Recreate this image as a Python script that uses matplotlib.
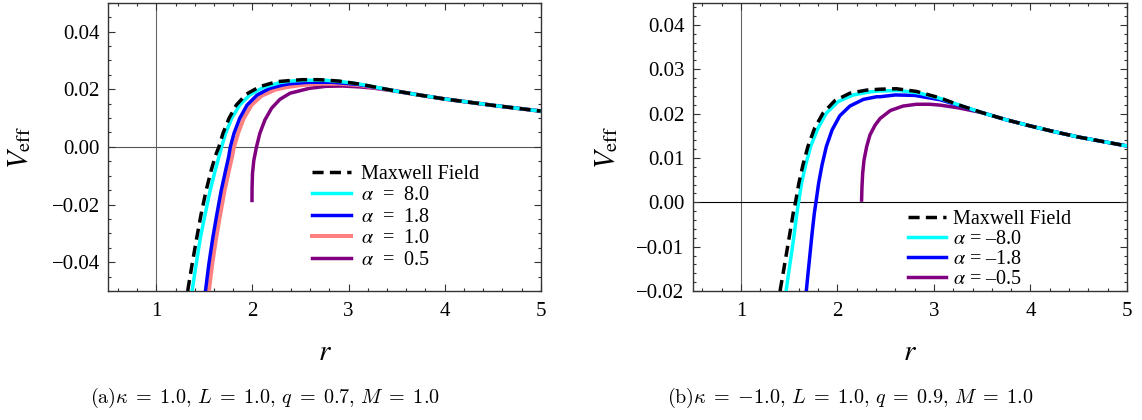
import matplotlib
matplotlib.use("Agg")
import matplotlib.pyplot as plt
from matplotlib.ticker import MultipleLocator, FixedLocator, FixedFormatter

plt.rcParams["font.family"] = ["Liberation Serif", "DejaVu Serif"]
plt.rcParams["mathtext.fontset"] = "stix"

# ---- panel (a): kappa = 1.0, q = 0.7 ----
r_max_a = [1.326, 1.372, 1.421, 1.466, 1.518, 1.571, 1.616, 1.651, 1.693, 1.756, 1.832,
           1.937, 2.077, 2.251, 2.391, 2.522, 2.696, 2.903, 3.111, 3.25]
v_max_a = [-0.0500, -0.0407, -0.0314, -0.0233, -0.0151, -0.0081, -0.0029, 0.0, 0.0047, 0.0099,
           0.0145, 0.0183, 0.0209, 0.0226, 0.0230, 0.0233, 0.0233, 0.0228, 0.0218, 0.0209]
r_a80 = [1.372, 1.414, 1.459, 1.508, 1.560, 1.613, 1.651, 1.679, 1.721, 1.784, 1.867,
         1.972, 2.112, 2.286, 2.391, 2.55, 2.75, 2.903, 3.111, 3.25]
v_a80 = [-0.0500, -0.0407, -0.0314, -0.0233, -0.0151, -0.0081, -0.0035, 0.0, 0.0047, 0.0099,
         0.0145, 0.0180, 0.0206, 0.0223, 0.0228, 0.0231, 0.0231, 0.0227, 0.0218, 0.0209]
r_a18 = [1.511, 1.546, 1.588, 1.630, 1.675, 1.721, 1.752, 1.770, 1.808, 1.867, 1.944,
         2.049, 2.181, 2.321, 2.391, 2.592, 2.834, 3.111, 3.25]
v_a18 = [-0.0500, -0.0407, -0.0314, -0.0233, -0.0151, -0.0081, -0.0035, 0.0, 0.0047, 0.0099,
         0.0145, 0.0180, 0.0203, 0.0215, 0.0219, 0.0224, 0.0224, 0.0216, 0.0208]
r_a10 = [1.546, 1.581, 1.623, 1.665, 1.710, 1.756, 1.787, 1.808, 1.850, 1.909, 1.990,
         2.094, 2.234, 2.356, 2.5, 2.7, 2.903, 3.111, 3.25]
v_a10 = [-0.0500, -0.0407, -0.0314, -0.0233, -0.0151, -0.0081, -0.0035, 0.0, 0.0047, 0.0099,
         0.0145, 0.0177, 0.0198, 0.0207, 0.0214, 0.0219, 0.0219, 0.0214, 0.0207]
r_a05 = [1.995, 1.996, 2.0, 2.014, 2.042, 2.077, 2.129, 2.199, 2.286, 2.391, 2.592,
         2.765, 2.938, 3.111, 3.25]
v_a05 = [-0.0186, -0.0140, -0.0093, -0.0047, 0.0, 0.0047, 0.0093, 0.0134, 0.0165, 0.0186,
         0.0203, 0.0210, 0.0211, 0.0208, 0.0204]
r_tail_a = [3.5, 3.75, 4.0, 4.25, 4.5, 4.75, 5.0]
v_tail_a = [0.0193, 0.0179, 0.0166, 0.0155, 0.0144, 0.0134, 0.0124]

# ---- panel (b): kappa = -1.0, q = 0.9 ----
r_max_b = [1.405, 1.440, 1.475, 1.510, 1.544, 1.565, 1.600, 1.642, 1.694, 1.763, 1.850,
           1.972, 2.129, 2.303, 2.442, 2.611, 2.818, 3.067, 3.25]
v_max_b = [-0.0200, -0.0156, -0.0111, -0.0066, -0.0021, 0.0, 0.0043, 0.0084, 0.0126, 0.0167,
           0.0201, 0.0229, 0.0246, 0.0253, 0.0255, 0.0256, 0.0250, 0.0235, 0.0220]
r_b80 = [1.468, 1.496, 1.527, 1.555, 1.579, 1.597, 1.628, 1.670, 1.722, 1.798, 1.885,
         2.007, 2.163, 2.337, 2.442, 2.645, 2.852, 3.067, 3.25]
v_b80 = [-0.0200, -0.0156, -0.0111, -0.0066, -0.0025, 0.0, 0.0043, 0.0084, 0.0126, 0.0167,
         0.0201, 0.0227, 0.0242, 0.0249, 0.0251, 0.0252, 0.0246, 0.0234, 0.0220]
r_b18 = [1.677, 1.697, 1.718, 1.739, 1.760, 1.777, 1.805, 1.840, 1.885, 1.944, 2.024,
         2.129, 2.268, 2.407, 2.442, 2.6, 2.8, 3.067, 3.25]
v_b18 = [-0.0200, -0.0156, -0.0111, -0.0066, -0.0025, 0.0, 0.0043, 0.0084, 0.0126, 0.0163,
         0.0195, 0.0217, 0.0232, 0.0238, 0.0238, 0.0242, 0.0241, 0.0231, 0.0219]
r_b05 = [2.250, 2.254, 2.261, 2.275, 2.303, 2.337, 2.390, 2.442, 2.549, 2.680, 2.818,
         2.957, 3.067, 3.25]
v_b05 = [0.0005, 0.0035, 0.0065, 0.0095, 0.0126, 0.0152, 0.0174, 0.0189, 0.0207, 0.0217,
         0.0221, 0.0221, 0.0219, 0.0213]
r_tail_b = [3.5, 3.75, 4.0, 4.25, 4.5, 4.75, 5.0]
v_tail_b = [0.0202, 0.0186, 0.0172, 0.0159, 0.0147, 0.0137, 0.0127]

labels_a = ["Maxwell Field", "$\\alpha$  =  8.0", "$\\alpha$  =  1.8",
            "$\\alpha$  =  1.0", "$\\alpha$  =  0.5"]
labels_b = ["Maxwell Field", "$\\alpha$ = \u20138.0", "$\\alpha$ = \u20131.8",
            "$\\alpha$ = \u20130.5"]
colors_a = ["black", "#00FFFF", "#0000FF", "#FF8080", "#800080"]
colors_b = ["black", "#00FFFF", "#0000FF", "#800080"]

yticks_a = [-0.04, -0.02, 0.0, 0.02, 0.04]
yticklabels_a = ["\u22120.04", "\u22120.02", "0.00", "0.02", "0.04"]
yticks_b = [-0.02, -0.01, 0.0, 0.01, 0.02, 0.03, 0.04]
yticklabels_b = ["\u22120.02", "\u22120.01", "0.00", "0.01", "0.02", "0.03", "0.04"]
xticks = [1, 2, 3, 4, 5]

caption_a = r"$\mathrm{(a)}\kappa\;=\;1.0,\,L\;=\;1.0,\,q\;=\;0.7,\,M\;=\;1.0$"
caption_b = r"$\mathrm{(b)}\kappa\;=\;{-1.0},\,L\;=\;1.0,\,q\;=\;0.9,\,M\;=\;1.0$"

W, H = 1142, 420
fig = plt.figure(figsize=(W / 100, H / 100), dpi=100)
ax_a = fig.add_axes([108.3 / W, 1 - 291 / H, 432.5 / W, 288.3 / H])
ax_b = fig.add_axes([692.7 / W, 1 - 291 / H, 434.3 / W, 288.3 / H])


def style_axes(ax, ylim, yticks, yticklabels, yminor, zero_color):
    ax.set_xlim(0.5, 5)
    ax.set_ylim(*ylim)
    ax.axvline(1, color="#666666", lw=0.8, zorder=1)
    ax.axhline(0, color=zero_color, lw=0.8, zorder=1)
    ax.xaxis.set_major_locator(FixedLocator(xticks))
    ax.xaxis.set_major_formatter(FixedFormatter([str(t) for t in xticks]))
    ax.xaxis.set_minor_locator(MultipleLocator(0.2))
    ax.yaxis.set_major_locator(FixedLocator(yticks))
    ax.yaxis.set_major_formatter(FixedFormatter(yticklabels))
    ax.yaxis.set_minor_locator(MultipleLocator(yminor))
    ax.tick_params(which="both", direction="in", top=True, right=True,
                   color="#333333", width=0.8)
    ax.tick_params(which="major", length=4.8, labelsize=15)
    ax.tick_params(which="minor", length=2.4)
    ax.tick_params(axis="x", pad=8)
    ax.tick_params(axis="y", pad=6)
    for s in ax.spines.values():
        s.set_color("#333333")
        s.set_linewidth(1.0)


def add_labels(ax, ylab_x):
    ax.text(0.5, -0.239, r"$r$", transform=ax.transAxes, ha="center", va="baseline",
            fontsize=21)
    ax.text(ylab_x, 0.5, r"$V_{\mathrm{eff}}$", transform=ax.transAxes, rotation=90,
            ha="center", va="center", fontsize=21)


# panel (a)
style_axes(ax_a, (-0.05, 0.05), yticks_a, yticklabels_a, 0.005, "#555555")
lw = 2.5
la4, = ax_a.plot(r_a05 + r_tail_a, v_a05 + v_tail_a, color=colors_a[4], lw=lw, zorder=3)
la3, = ax_a.plot(r_a10 + r_tail_a, v_a10 + v_tail_a, color=colors_a[3], lw=2.9, zorder=3)
la2, = ax_a.plot(r_a18 + r_tail_a, v_a18 + v_tail_a, color=colors_a[2], lw=lw, zorder=4)
la1, = ax_a.plot(r_a80 + r_tail_a, v_a80 + v_tail_a, color=colors_a[1], lw=lw, zorder=5)
la0, = ax_a.plot(r_max_a + r_tail_a, v_max_a + v_tail_a, color=colors_a[0], lw=lw,
                 dashes=(3.2, 1.8), zorder=6)
ax_a.legend([la0, la1, la2, la3, la4], labels_a, loc="upper left",
            bbox_to_anchor=(0.472, 0.438), frameon=False, fontsize=14.5,
            borderpad=0, borderaxespad=0, handlelength=1.9, handletextpad=0.5,
            labelspacing=0.12)
add_labels(ax_a, -0.204)

# panel (b)
style_axes(ax_b, (-0.02, 0.045), yticks_b, yticklabels_b, 0.002, "black")
lb3, = ax_b.plot(r_b05 + r_tail_b, v_b05 + v_tail_b, color=colors_b[3], lw=lw, zorder=3)
lb2, = ax_b.plot(r_b18 + r_tail_b, v_b18 + v_tail_b, color=colors_b[2], lw=lw, zorder=4)
lb1, = ax_b.plot(r_b80 + r_tail_b, v_b80 + v_tail_b, color=colors_b[1], lw=lw, zorder=5)
lb0, = ax_b.plot(r_max_b + r_tail_b, v_max_b + v_tail_b, color=colors_b[0], lw=lw,
                 dashes=(3.2, 1.8), zorder=6)
ax_b.legend([lb0, lb1, lb2, lb3], labels_b, loc="upper left",
            bbox_to_anchor=(0.496, 0.282), frameon=False, fontsize=14.5,
            borderpad=0, borderaxespad=0, handlelength=1.9, handletextpad=0.35,
            labelspacing=0.05)
add_labels(ax_b, -0.197)

fig.text(265 / W, 1 - 403 / H, caption_a, ha="center", va="baseline", fontsize=14.5,
         math_fontfamily="cm")
fig.text(850 / W, 1 - 403 / H, caption_b, ha="center", va="baseline", fontsize=14.5,
         math_fontfamily="cm")

fig.savefig("out.png", dpi=100)
